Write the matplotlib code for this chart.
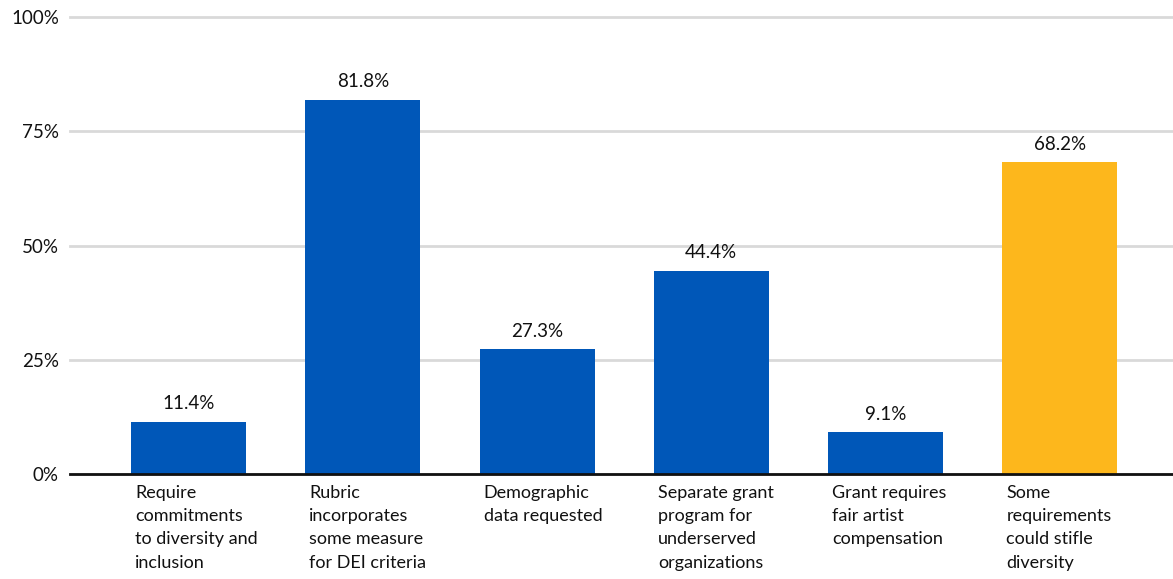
import matplotlib.pyplot as plt

categories = [
    "Require\ncommitments\nto diversity and\ninclusion",
    "Rubric\nincorporates\nsome measure\nfor DEI criteria",
    "Demographic\ndata requested",
    "Separate grant\nprogram for\nunderserved\norganizations",
    "Grant requires\nfair artist\ncompensation",
    "Some\nrequirements\ncould stifle\ndiversity",
]
values = [11.4, 81.8, 27.3, 44.4, 9.1, 68.2]
bar_colors = ["#0057B8", "#0057B8", "#0057B8", "#0057B8", "#0057B8", "#FDB71C"]
yticks = [0, 25, 50, 75, 100]
ytick_labels = ["0%", "25%", "50%", "75%", "100%"]

plt.rcParams['font.family'] = ['Lato', 'DejaVu Sans']

fig = plt.figure(figsize=(11.73, 5.79), dpi=100)
ax = fig.add_axes([0.0597, 0.1813, 0.9403, 0.7893])

x = list(range(len(values)))
width = 0.66
ax.bar(x, values, width=width, color=bar_colors, zorder=3)

# value labels above bars
for xi, v in zip(x, values):
    ax.annotate(f"{v:.1f}%", (xi, v), xytext=(0, 7), textcoords="offset points",
                ha="center", va="bottom", fontsize=13.5, color="#111111")

# category labels, left aligned to bar edges
for xi, lab in zip(x, categories):
    ax.annotate(lab, (xi - width / 2, 0), xytext=(3, -8), textcoords="offset points",
                ha="left", va="top", fontsize=13, color="#111111", linespacing=1.55,
                annotation_clip=False)

ax.set_xlim(-0.68, 5.65)
ax.set_ylim(0, 100)
ax.set_yticks(yticks)
ax.set_yticklabels(ytick_labels, fontsize=13.5, color="#111111")
ax.set_xticks([])
ax.tick_params(axis="y", length=0, pad=8)

ax.grid(axis="y", color="#d9d9d9", linewidth=2, zorder=0)
for gl in ax.get_ygridlines():
    gl.set_clip_on(False)

for side in ["top", "right", "left"]:
    ax.spines[side].set_visible(False)
ax.spines["bottom"].set_color("#111111")
ax.spines["bottom"].set_linewidth(2)
ax.spines["bottom"].set_zorder(4)

fig.savefig("out.png", dpi=100)
